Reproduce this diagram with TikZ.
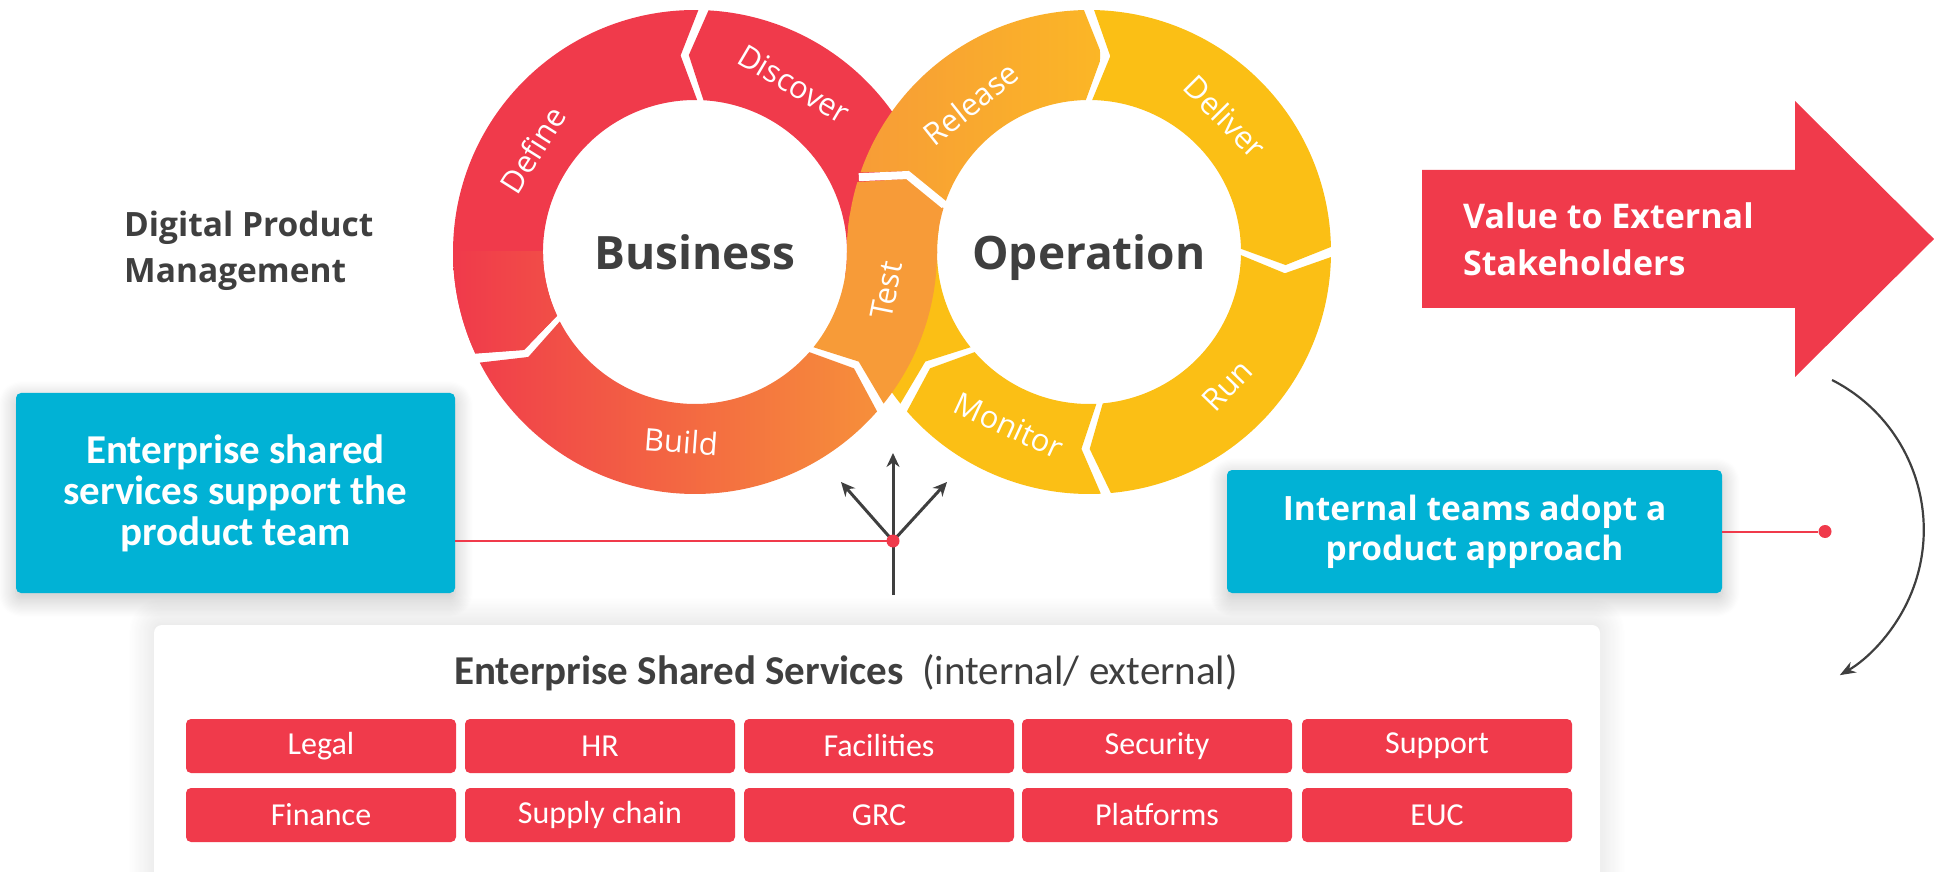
\documentclass[tikz,border=0pt]{standalone}
\usepackage{fontspec}
\setmainfont{Open Sans}
\newfontfamily\carlito{Carlito}
\usetikzlibrary{arrows.meta,positioning,shadows.blur}

\definecolor{bizred}{HTML}{F03A4B}
\definecolor{testorange}{HTML}{F79B38}
\definecolor{relyellow}{HTML}{FBB626}
\definecolor{opsyellow}{HTML}{FBBF15}
\definecolor{teamblue}{HTML}{01B2D5}
\definecolor{inkgray}{HTML}{3F3F3F}

% one piece of a ring: outer 242, middle 197, inner 152
% #1 options, #2 centre, #3 from angle, #4 to angle, #5 direction (1 ccw, -1 cw)
\newcommand{\gaphalf}{1.2}
\newcommand{\tipang}{5}
\newcommand{\ringseg}[5]{%
  \pgfmathsetmacro\segfrom{#3+(#5)*\gaphalf}%
  \pgfmathsetmacro\segto{#4-(#5)*\gaphalf}%
  \pgfmathsetmacro\segnotch{\segfrom+(#5)*\tipang}%
  \pgfmathsetmacro\segtip{\segto+(#5)*\tipang}%
  \path[#1,shift={(#2)}] (\segfrom:242) arc[start angle=\segfrom, end angle=\segto, radius=242]
    -- (\segtip:197) -- (\segto:152) arc[start angle=\segto, end angle=\segfrom, radius=152]
    -- (\segnotch:197) -- cycle;%
}

\begin{document}
\begin{tikzpicture}[
    x=1pt, y=1pt,
    ringlabel/.style={text=white, inner sep=0pt, font=\fontsize{31}{31}\selectfont},
    hubtext/.style={text=inkgray, inner sep=0pt, font=\bfseries\fontsize{46}{46}\selectfont},
    teambox/.style={
      rounded corners=5pt,
      fill=teamblue,
      text=white,
      align=center,
      inner sep=0pt,
      blur shadow={shadow xshift=0pt, shadow yshift=-6pt, shadow blur radius=18pt, shadow blur steps=16, shadow opacity=25}
    },
    panel/.style={
      rounded corners=8pt,
      fill=white,
      blur shadow={shadow xshift=0pt, shadow yshift=2pt, shadow blur radius=26pt, shadow blur steps=24, shadow opacity=14}
    },
    svcbox/.style={
      rounded corners=5pt,
      fill=bizred,
      text=white,
      minimum width=270pt,
      minimum height=54pt,
      inner sep=0pt,
      font=\carlito\fontsize{32}{32}\selectfont
    },
    linkline/.style={draw=bizred, line width=2pt},
    linkdot/.style={circle, fill=bizred, inner sep=0pt, minimum size=13pt},
    fanarrow/.style={draw=inkgray, line width=3pt, -{Stealth[length=14pt, width=13pt]}},
    looparrow/.style={draw=inkgray, line width=2.2pt, -{Stealth[length=16pt, width=12pt]}},
  ]
  \useasboundingbox (0,0) rectangle (1934,871);

  %%%%%%%%%%%%%%%% BOXES %%%%%%%%%%%%%%%%
  \node[panel, minimum width=1446pt, minimum height=262pt] (sharedpanel) at (877,115) {};
  \node[teambox, minimum width=439pt, minimum height=200pt, font=\carlito\bfseries\fontsize{41}{41}\selectfont] (esbox) at (235.5,378) {Enterprise shared\\services support the\\product team};
  \node[teambox, minimum width=495pt, minimum height=123pt, font=\bfseries\fontsize{33.5}{40}\selectfont] (itbox) at (1474.5,339.5) {Internal teams adopt a\\product approach};

  \node[text=inkgray, font=\carlito\fontsize{41}{41}\selectfont] (sstitle) at (846,198) {\textbf{Enterprise Shared Services}\ \ (internal/ external)};

  \node[svcbox] (legal) at (321,125) {Legal};
  \node[svcbox] (hr) at (600,125) {HR};
  \node[svcbox] (facilities) at (879,125) {Facilities};
  \node[svcbox] (security) at (1157,125) {Security};
  \node[svcbox] (support) at (1437,125) {Support};
  \node[svcbox] (finance) at (321,56) {Finance};
  \node[svcbox] (supply) at (600,56) {Supply chain};
  \node[svcbox] (grc) at (879,56) {GRC};
  \node[svcbox] (platforms) at (1157,56) {Platforms};
  \node[svcbox] (euc) at (1437,56) {EUC};

  %%%%%%%%%%%%%%%% RINGS %%%%%%%%%%%%%%%%
  \coordinate (B) at (695,619);
  \coordinate (O) at (1089,619);

  \ringseg{fill=bizred}{B}{-10}{88}{1}       % discover
  \ringseg{fill=opsyellow}{O}{220}{170}{-1}  % runs under test
  \ringseg{fill=opsyellow}{O}{274}{220}{-1}  % monitor
  \ringseg{fill=opsyellow}{O}{360}{274}{-1}  % run
  \ringseg{fill=opsyellow}{O}{90}{0}{-1}     % deliver
  \begin{scope}
    \ringseg{clip}{O}{162}{90}{-1}           % release
    \shade[left color=testorange, right color=relyellow] (847,619) rectangle (1100,871);
  \end{scope}
  \ringseg{fill=bizred}{B}{88}{206}{1}       % define
  \begin{scope}
    \clip (440,370) rectangle (700,619);
    \ringseg{clip}{B}{88}{206}{1}
    \shade[left color=bizred, right color=testorange] (453,370) rectangle (937,619);
  \end{scope}
  \begin{scope}
    \ringseg{clip}{B}{206}{320}{1}           % build
    \shade[left color=bizred, right color=testorange] (453,370) rectangle (937,619);
  \end{scope}
  % test goes over the crossing
  \fill[testorange] ([shift={(321.2:242)}]B) arc[start angle=321.2, end angle=360, radius=242]
    arc[start angle=180, end angle=163.2, radius=152] -- ([shift={(158.2:197)}]O)
    -- ([shift={(163.2:242)}]O) arc[start angle=163.2, end angle=180, radius=242]
    arc[start angle=0, end angle=-38.8, radius=152] -- ([shift={(326.2:197)}]B) -- cycle;
  \draw[white, line width=8pt] ([shift={(162:242)}]O) -- ([shift={(157:197)}]O) -- ([shift={(162:152)}]O);

  \node[ringlabel, rotate=-30.6] (discover) at ([shift={(59.4:195)}]B) {Discover};
  \node[ringlabel, rotate=57.8] (define) at ([shift={(147.8:192)}]B) {Define};
  \node[ringlabel, rotate=-4.2] (build) at ([shift={(265.8:190)}]B) {Build};
  \node[ringlabel, rotate=78.7] (test) at ([shift={(-11.3:195)}]B) {Test};
  \node[ringlabel, rotate=38.5] (release) at ([shift={(128.5:190)}]O) {Release};
  \node[ringlabel, rotate=-45.2] (deliver) at ([shift={(44.8:192)}]O) {Deliver};
  \node[ringlabel, rotate=46] (run) at ([shift={(-44:192)}]O) {Run};
  \node[ringlabel, rotate=-24.7] (monitor) at ([shift={(245.3:191)}]O) {Monitor};

  \node[hubtext, anchor=base] (business) at ([yshift=-18pt]B) {Business};
  \node[hubtext, anchor=base] (operation) at ([yshift=-18pt]O) {Operation};

  \node[anchor=west, align=left, text=inkgray, inner sep=0pt, font=\bfseries\fontsize{33.5}{46}\selectfont] (dpm) at (124,620) {Digital Product\\Management};

  %%%%%%%%%%%%%%%% VALUE ARROW %%%%%%%%%%%%%%%%
  \fill[bizred] (1422,563) -- (1795,563) -- (1795,494) -- (1934,632) -- (1795,770) -- (1795,701) -- (1422,701) -- cycle;
  \node[anchor=west, align=left, text=white, inner sep=0pt, font=\bfseries\fontsize{34}{47}\selectfont] (value) at (1463,632) {Value to External\\Stakeholders};

  %%%%%%%%%%%%%%%% CONNECTORS %%%%%%%%%%%%%%%%
  \coordinate (junction) at (893,330);
  \coordinate (fan-foot) at (893,276);
  \coordinate (fan-up) at (893,418);
  \coordinate (fan-left) at (841,389);
  \coordinate (fan-right) at (947,389);

  \draw[linkline] (esbox.east |- junction) -- (junction);
  \draw[fanarrow] (fan-foot) -- (fan-up);
  \draw[fanarrow] (junction) -- (fan-left);
  \draw[fanarrow] (junction) -- (fan-right);
  \node[linkdot] (jdot) at (junction) {};

  \node[linkdot] (itdot) at (1825,339.5) {};
  \draw[linkline] (itbox.east) -- (itdot);

  \coordinate (loop-start) at (1832,491);
  \draw[looparrow] (loop-start) arc[start angle=63, end angle=-60, radius=168];
\end{tikzpicture}
\end{document}
